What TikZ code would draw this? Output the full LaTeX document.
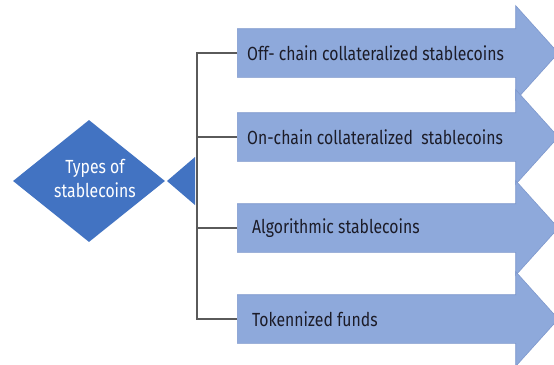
\documentclass[tikz,border=0pt]{standalone}
\usepackage{fontspec}
\setmainfont{Fira Sans}[FakeStretch=0.83]
\usetikzlibrary{shapes.geometric,shapes.arrows}
\definecolor{hubblue}{HTML}{4273C2}
\definecolor{armblue}{HTML}{8EA9DB}
\definecolor{armedge}{HTML}{7E98CD}
\definecolor{wire}{HTML}{5A5A5A}
\definecolor{ink}{HTML}{1C1C28}
\tikzset{
  hub/.style={diamond, fill=hubblue, draw=none, minimum width=152pt,
    minimum height=122pt, inner sep=0pt},
  hubtext/.style={text=white, align=center, inner sep=0pt,
    font=\fontsize{19}{24}\selectfont},
  armbox/.style={single arrow, fill=armblue, draw=armedge, line width=0.6pt,
    minimum height=321pt, inner xsep=0pt, inner ysep=24pt,
    single arrow head extend=23pt, single arrow tip angle=96, anchor=west},
  armtext/.style={anchor=west, text=ink, inner sep=0pt,
    font=\fontsize{19}{24}\selectfont},
  conn/.style={draw=wire, line width=1.1pt},
}
\begin{document}
\begin{tikzpicture}[x=1pt,y=-1pt]
  \useasboundingbox[fill=white] (0,0) rectangle (554,364);

  % central diamond
  \node[hub] (hub) at (89,181) {};
  \node[hubtext] (hubtitle) at ([shift={(6,-3)}]hub.center) {Types of\\stablecoins};
  % small pointer on the right of the diamond
  \fill[hubblue] (195,157) -- (167,181) -- (195,205) -- cycle;
  \coordinate (trunk) at (197,181);

  % four arrows
  \node[armbox] (a1) at (237,53) {};
  \node[armbox] (a2) at (237,137) {};
  \node[armbox] (a3) at (237,228) {};
  \node[armbox] (a4) at (237,319) {};

  \node[armtext] (t1) at ([xshift=10pt]a1.west) {Off- chain collateralized stablecoins};
  \node[armtext] (t2) at ([xshift=10pt]a2.west) {On-chain collateralized \ stablecoins};
  \node[armtext] (t3) at ([xshift=15pt]a3.west) {Algorithmic stablecoins};
  \node[armtext] (t4) at ([xshift=15pt]a4.west) {Tokennized funds};

  % tree connectors
  \draw[conn] (a1.west) -- (a1.west -| trunk) -- (a4.west -| trunk) -- (a4.west);
  \draw[conn] (a2.west) -- (a2.west -| trunk);
  \draw[conn] (a3.west) -- (a3.west -| trunk);
\end{tikzpicture}
\end{document}
